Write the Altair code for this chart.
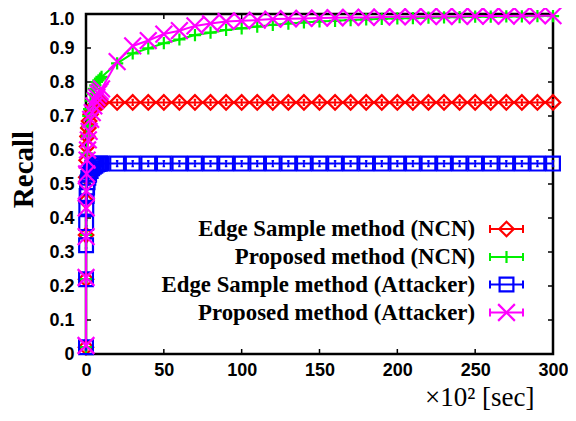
import altair as alt
import pandas as pd

# ---------------- data ----------------
series_names = [
    "Edge Sample method (NCN)",
    "Proposed method (NCN)",
    "Edge Sample method (Attacker)",
    "Proposed method (Attacker)",
]
series_colors = ["#FF0000", "#00F000", "#0000FF", "#FF00FF"]

x_vals = [0, 0.02, 0.05, 0.1, 0.2, 0.4, 0.7, 1, 1.5, 2, 3, 4, 5, 6, 7, 8, 9, 10,
          20, 30, 40, 50, 60, 70, 80, 90, 100, 110, 120, 130, 140, 150, 160, 170,
          180, 190, 200, 210, 220, 230, 240, 250, 260, 270, 280, 290, 300]

edge_ncn = [0.02, 0.22, 0.35, 0.45, 0.52, 0.57, 0.61, 0.64, 0.665, 0.685, 0.705, 0.718,
            0.727, 0.733, 0.737, 0.739, 0.74, 0.74,
            0.74, 0.74, 0.74, 0.74, 0.74, 0.74, 0.74, 0.74, 0.74, 0.74, 0.74, 0.74,
            0.74, 0.74, 0.74, 0.74, 0.74, 0.74, 0.74, 0.74, 0.74, 0.74, 0.74, 0.74,
            0.74, 0.74, 0.74, 0.74, 0.74]

prop_ncn = [0.02, 0.22, 0.35, 0.45, 0.53, 0.59, 0.64, 0.67, 0.70, 0.72, 0.745, 0.765,
            0.78, 0.79, 0.80, 0.805, 0.81, 0.815,
            0.855, 0.884, 0.899, 0.914, 0.925, 0.938, 0.945, 0.953, 0.958, 0.963,
            0.968, 0.972, 0.975, 0.978, 0.980, 0.982, 0.984, 0.986, 0.987, 0.988,
            0.989, 0.990, 0.991, 0.992, 0.992, 0.993, 0.993, 0.994, 0.994]

edge_att = [0.02, 0.22, 0.32, 0.385, 0.43, 0.465, 0.49, 0.505, 0.518, 0.527, 0.538, 0.546,
            0.551, 0.554, 0.557, 0.559, 0.56, 0.56,
            0.56, 0.56, 0.56, 0.56, 0.56, 0.56, 0.56, 0.56, 0.56, 0.56, 0.56, 0.56,
            0.56, 0.56, 0.56, 0.56, 0.56, 0.56, 0.56, 0.56, 0.56, 0.56, 0.56, 0.56,
            0.56, 0.56, 0.56, 0.56, 0.56]

prop_att = [0.025, 0.225, 0.345, 0.43, 0.48, 0.53, 0.57, 0.60, 0.63, 0.655, 0.69, 0.71,
            0.73, 0.745, 0.755, 0.765, 0.772, 0.78,
            0.860, 0.906, 0.922, 0.941, 0.951, 0.965, 0.972, 0.978, 0.980, 0.982,
            0.985, 0.986, 0.987, 0.988, 0.989, 0.990, 0.990, 0.991, 0.992, 0.992,
            0.993, 0.993, 0.993, 0.994, 0.994, 0.994, 0.995, 0.995, 0.995]

series_values = [edge_ncn, prop_ncn, edge_att, prop_att]

x_ticks = [0, 50, 100, 150, 200, 250, 300]
y_ticks = [0, 0.1, 0.2, 0.3, 0.4, 0.5, 0.6, 0.7, 0.8, 0.9, 1.0]

# ---------------- styling ----------------
W, H = 467, 340
PLUS = "M-1,0H1M0,-1V1"
XSHAPE = "M-1,-1L1,1M-1,1L1,-1"
ERRBAR = "M-0.45,-1H0.45M0,-1V1M-0.45,1H0.45"
shapes = ["diamond", PLUS, "square", XSHAPE]
sizes = [210, 150, 190, 280]

xscale = alt.Scale(domain=[0, 300], nice=False, zero=False)
yscale = alt.Scale(domain=[0, 1], nice=False)

xaxis = alt.Axis(values=x_ticks, labelFont="Liberation Sans", labelFontWeight="bold",
                 labelFontSize=18, labelColor="black", ticks=False, tickSize=0,
                 domain=False, grid=False, labelPadding=7, labelFlush=False,
                 title="×10² [sec]", titleFont="Liberation Serif",
                 titleFontWeight="normal", titleFontSize=27, titleColor="black",
                 titleAlign="right", titleX=448, titleY=51, titleBaseline="alphabetic")
yaxis = alt.Axis(values=y_ticks, labelFont="Liberation Sans", labelFontWeight="bold",
                 labelFontSize=18, labelColor="black", ticks=False, tickSize=0,
                 domain=False, grid=False, labelPadding=12, labelFlush=False,
                 labelOffset=alt.expr("datum.value >= 0.99 ? 5 : 0"),
                 labelExpr="datum.value == 0 ? '0' : format(datum.value, '.1f')",
                 title="Recall", titleFont="Liberation Serif", titleFontWeight="bold",
                 titleFontSize=29, titleColor="black", titleAngle=270,
                 titleX=-54, titleY=155, titleAlign="center",
                 titleBaseline="alphabetic")

x_enc = alt.X("x:Q", scale=xscale, axis=xaxis)
y_enc = alt.Y("y:Q", scale=yscale, axis=yaxis)

layers = []

# inward ticks (bottom/top and left/right)
xt_df = pd.DataFrame({"x": x_ticks})
yt_df = pd.DataFrame({"y": y_ticks})
layers.append(alt.Chart(xt_df).mark_rule(color="black", strokeWidth=1.5).encode(
    x=x_enc, y=alt.value(H), y2=alt.value(H - 5)))
layers.append(alt.Chart(xt_df).mark_rule(color="black", strokeWidth=1.5).encode(
    x=x_enc, y=alt.value(0), y2=alt.value(5)))
layers.append(alt.Chart(yt_df).mark_rule(color="black", strokeWidth=1.5).encode(
    y=y_enc, x=alt.value(0), x2=alt.value(5)))
layers.append(alt.Chart(yt_df).mark_rule(color="black", strokeWidth=1.5).encode(
    y=y_enc, x=alt.value(W), x2=alt.value(W - 5)))

for i, name in enumerate(series_names):
    df = pd.DataFrame({"x": x_vals, "y": series_values[i]})
    col = series_colors[i]
    layers.append(alt.Chart(df).mark_line(color=col, strokeWidth=2, clip=False).encode(
        x=x_enc, y=y_enc))
    layers.append(alt.Chart(df).mark_point(shape=shapes[i], filled=False, color=col,
                                           size=sizes[i], strokeWidth=2.2, opacity=1,
                                           clip=False).encode(x=x_enc, y=y_enc))
    if i in (0, 2):
        layers.append(alt.Chart(df).mark_point(shape=ERRBAR, filled=False, color=col,
                                               size=30, strokeWidth=1.6, opacity=1,
                                               clip=False).encode(x=x_enc, y=y_enc))

# ---------------- legend (drawn inside plot) ----------------
one = pd.DataFrame({"a": [0]})
row_y = [215, 243, 270.5, 298.5]
for i, name in enumerate(series_names):
    yc = row_y[i]
    col = series_colors[i]
    layers.append(alt.Chart(one).mark_text(align="right", baseline="alphabetic",
                                           font="Liberation Serif", fontWeight="bold",
                                           fontSize=22.8, color="black").encode(
        x=alt.value(389), y=alt.value(yc + 7), text=alt.value(name)))
    layers.append(alt.Chart(one).mark_rule(color=col, strokeWidth=2).encode(
        x=alt.value(404), x2=alt.value(437), y=alt.value(yc)))
    layers.append(alt.Chart(one).mark_rule(color=col, strokeWidth=2).encode(
        x=alt.value(404), y=alt.value(yc - 4), y2=alt.value(yc + 4)))
    layers.append(alt.Chart(one).mark_rule(color=col, strokeWidth=2).encode(
        x=alt.value(437), y=alt.value(yc - 4), y2=alt.value(yc + 4)))
    layers.append(alt.Chart(one).mark_point(shape=shapes[i], filled=False, color=col,
                                            size=sizes[i], strokeWidth=2.2,
                                            opacity=1).encode(
        x=alt.value(420.5), y=alt.value(yc)))

chart = alt.layer(*layers).properties(
    width=W, height=H,
    autosize=alt.AutoSizeParams(type="none"),
    padding={"left": 78, "top": 6, "right": 15, "bottom": 59},
    background="white",
).configure_view(stroke="black", strokeWidth=2.5)

chart.save("out.html", embed_options={"renderer": "svg", "actions": False})
